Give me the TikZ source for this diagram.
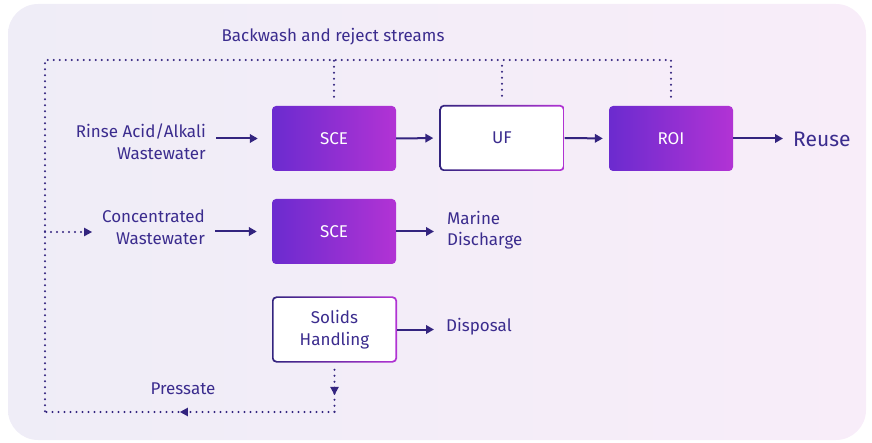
\documentclass[tikz,border=0pt]{standalone}
\usepackage{fontspec}
\setmainfont{Fira Sans}
\usetikzlibrary{arrows.meta,decorations.markings}
\definecolor{ink}{HTML}{3B2C8E}
\definecolor{flow}{HTML}{33247F}
\definecolor{violetL}{HTML}{6B2BCF}
\definecolor{violetR}{HTML}{B233D4}
\definecolor{bgL}{HTML}{EFEDF7}
\definecolor{bgR}{HTML}{F8EDF9}
\begin{document}
\begin{tikzpicture}[x=1pt,y=-1pt,
  lbl/.style={text=ink, inner sep=1pt, font=\fontsize{17}{21.5}\selectfont},
  solidbox/.style={rounded corners=4pt, minimum width=124pt, minimum height=65pt,
    left color=violetL, right color=violetR, text=white, font=\fontsize{17}{21.5}\selectfont},
  outlinebox/.style={rounded corners=4pt, minimum width=125pt, minimum height=66pt,
    left color=flow, right color=violetR, text=ink, align=center,
    font=\fontsize{17}{21.5}\selectfont,
    path picture={\fill[white,rounded corners=3pt]
      ([shift={(1.7pt,-1.7pt)}]path picture bounding box.north west) rectangle
      ([shift={(-1.7pt,1.7pt)}]path picture bounding box.south east);}},
  tip/.style={-{Triangle[length=8pt,width=8.5pt]}},
  flowarrow/.style={draw=flow, line width=2pt, tip},
  loop/.style={draw=flow, line width=2.2pt, line cap=round, dash pattern=on 0pt off 6pt},
  midtip/.style={postaction={decorate}, decoration={markings,
    mark=at position #1 with {\fill[flow] (4pt,0pt) -- (-4pt,4.4pt) -- (-4pt,-4.4pt) -- cycle;}}},
]
\useasboundingbox (0,0) rectangle (872,443);
% panel
\shade[left color=bgL, right color=bgR, rounded corners=30pt] (8,4) rectangle (866,440);

% process boxes
\node[solidbox] (sce1) at (334,138.5) {SCE};
\node[outlinebox] (uf) at (502,138) {UF};
\node[solidbox] (roi) at (671,138.5) {ROI};
\node[solidbox] (sce2) at (334,231.5) {SCE};
\node[outlinebox] (solids) at (334.5,329.5) {Solids\\Handling};

% labels
\node[lbl, anchor=east, align=right] (rinse) at (207,141.5) {Rinse Acid/Alkali\\Wastewater};
\node[lbl, anchor=east, align=right] (conc) at (206,227) {Concentrated\\Wastewater};
\node[lbl, anchor=west, align=left] (marine) at (446,230) {Marine\\Discharge};
\node[lbl, anchor=west] (disp) at (445,327) {Disposal};
\node[lbl, anchor=west, font=\fontsize{21}{25}\selectfont] (reuse) at (792,139) {Reuse};
\node[lbl] (back) at (333,37) {Backwash and reject streams};
\node[lbl] (press) at (183,389) {Pressate};

% main flow
\draw[flowarrow] ([xshift=9pt]rinse.east |- sce1) -- ([xshift=-14pt]sce1.west);
\draw[flowarrow, shorten >=6pt] (sce1.east) -- (uf.west);
\draw[flowarrow, shorten >=6pt] (uf.east) -- (roi.west);
\draw[flowarrow, shorten >=9pt] (roi.east) -- (reuse.west |- roi);
\draw[flowarrow] ([xshift=9pt]conc.east |- sce2) -- ([xshift=-15pt]sce2.west);
\draw[flowarrow, shorten >=12pt] (sce2.east) -- (marine.west |- sce2);
\draw[flowarrow, shorten >=11pt] (solids.east) -- (disp.west |- solids);

% recycle loop
\coordinate (tl) at (45,60);
\coordinate (bl) at (45,412);
\coordinate (br) at (solids.south |- bl);
\coordinate (tap) at (45,232);
\coordinate (entry) at (92,232);
\draw[loop] ([yshift=9pt]sce1.north) -- (sce1.north |- tl);
\draw[loop] ([yshift=9pt]uf.north) -- (uf.north |- tl);
\draw[loop] ([yshift=9pt]roi.north) -- (roi.north |- tl) -- (tl) -- (bl);
\draw[loop, midtip=0.5] ([yshift=-7pt]solids.south) -- (br);
\draw[loop, midtip=0.52] (br) -- (bl);
\draw[loop] (tap) -- ([xshift=-8pt]entry);
\fill[flow] (entry) -- ++(-8,-4.4) -- ++(0,8.8) -- cycle;
\end{tikzpicture}
\end{document}
